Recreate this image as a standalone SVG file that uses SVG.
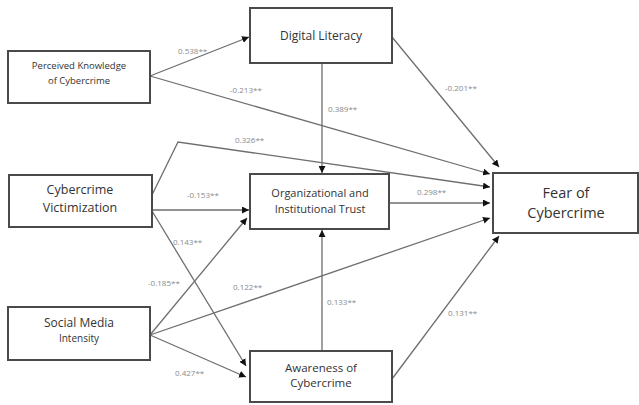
<svg xmlns="http://www.w3.org/2000/svg" width="639" height="405" viewBox="0 0 639 405">
<style>
.box{fill:#fff;stroke:#4a4a4a;stroke-width:2}
.t{font-family:"Open Sans","Liberation Sans",sans-serif;fill:#333;text-anchor:middle}
.ln{fill:none;stroke:#6e6e6e;stroke-width:1.3;marker-end:url(#ah)}
.lb{font-family:"Open Sans","Liberation Sans",sans-serif;font-size:8px;fill:#8a8a8a}
</style>
<defs>
<marker id="ah" viewBox="0 0 10 10" refX="10" refY="5" markerWidth="7" markerHeight="7" orient="auto" markerUnits="userSpaceOnUse">
<path d="M0,0 L10,5 L0,10 z" fill="#111"/>
</marker>
</defs>
<rect width="639" height="405" fill="#fff"/>
<g id="connectors">
<path class="ln" d="M150,76 L249,37"/>
<path class="ln" d="M150,76 L490,174"/>
<path class="ln" d="M392,37 L499,167"/>
<path class="ln" d="M322,63 L322,173"/>
<path class="ln" d="M152,195 L178,142 L490,187"/>
<path class="ln" d="M152,210 L249,210"/>
<path class="ln" d="M152,211 L246,366"/>
<path class="ln" d="M150,335 L247,218"/>
<path class="ln" d="M150,335 L490,218"/>
<path class="ln" d="M150,335 L246,377"/>
<path class="ln" d="M322,351 L322,230"/>
<path class="ln" d="M389,203 L490,203"/>
<path class="ln" d="M392,379 L499,236"/>
<text class="lb" x="178" y="54">0.538**</text>
<text class="lb" x="230" y="93">-0.213**</text>
<text class="lb" x="445" y="91">-0.201**</text>
<text class="lb" x="328" y="112">0.389**</text>
<text class="lb" x="235" y="143">0.326**</text>
<text class="lb" x="187" y="198">-0.153**</text>
<text class="lb" x="173" y="245">0.143**</text>
<text class="lb" x="148" y="286">-0.185**</text>
<text class="lb" x="233" y="290">0.122**</text>
<text class="lb" x="175" y="376">0.427**</text>
<text class="lb" x="327" y="305">0.133**</text>
<text class="lb" x="448" y="316">0.131**</text>
<text class="lb" x="417" y="195">0.298**</text>
</g>
<g id="perceived">
<rect class="box" x="8" y="51" width="142" height="52"/>
<text class="t" x="79" y="69" font-size="9.5">Perceived Knowledge</text>
<text class="t" x="79" y="84" font-size="9.5">of Cybercrime</text>
</g>
<g id="digital">
<rect class="box" x="250" y="8" width="142" height="55"/>
<text class="t" x="321" y="40" font-size="12">Digital Literacy</text>
</g>
<g id="victimization">
<rect class="box" x="9" y="175" width="143" height="52"/>
<text class="t" x="80" y="194" font-size="12.5">Cybercrime</text>
<text class="t" x="80" y="212" font-size="12.5">Victimization</text>
</g>
<g id="trust">
<rect class="box" x="250" y="174" width="139" height="55"/>
<text class="t" x="320" y="197" font-size="11">Organizational and</text>
<text class="t" x="320" y="213" font-size="11">Institutional Trust</text>
</g>
<g id="fear">
<rect class="box" x="493" y="173" width="145" height="60"/>
<text class="t" x="566" y="198" font-size="14.5">Fear of</text>
<text class="t" x="566" y="218" font-size="14.5">Cybercrime</text>
</g>
<g id="social">
<rect class="box" x="8" y="307" width="142" height="53"/>
<text class="t" x="79" y="327" font-size="12">Social Media</text>
<text class="t" x="79" y="342" font-size="10">Intensity</text>
</g>
<g id="awareness">
<rect class="box" x="250" y="351" width="142" height="51"/>
<text class="t" x="321" y="372" font-size="11.5">Awareness of</text>
<text class="t" x="321" y="387" font-size="11.5">Cybercrime</text>
</g>
</svg>
